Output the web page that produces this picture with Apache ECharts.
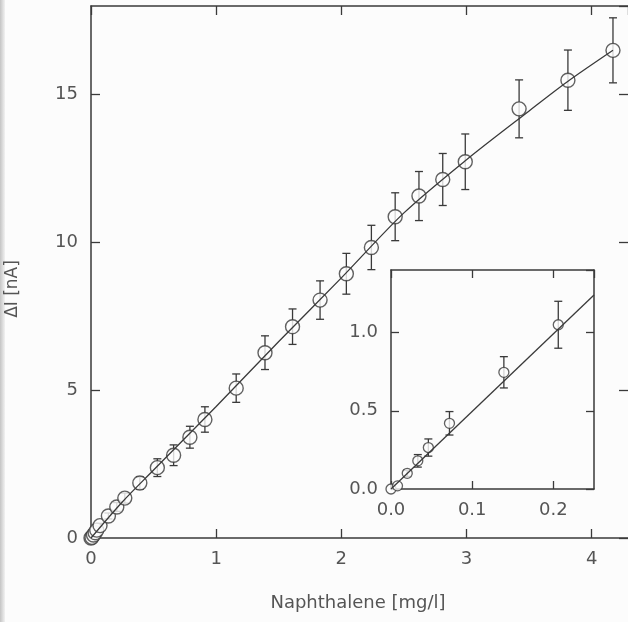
<!DOCTYPE html>
<html><head><meta charset="utf-8">
<script src="https://cdn.jsdelivr.net/npm/echarts@6/dist/echarts.min.js"></script>
<style>html,body{margin:0;padding:0;background:#fcfcfc}#c{width:628px;height:622px}</style>
</head><body><div id="c"></div>
<script>
// Measured points: naphthalene concentration (mg/l), current change (nA), error (nA)
const xVals = [0, 0.008, 0.02, 0.033, 0.046, 0.072, 0.139, 0.206, 0.27, 0.39, 0.53, 0.66, 0.79, 0.91, 1.16, 1.39, 1.61, 1.83, 2.04, 2.24, 2.43, 2.62, 2.81, 2.99, 3.42, 3.81, 4.17];
const yVals = [0, 0.02, 0.10, 0.18, 0.265, 0.42, 0.746, 1.05, 1.35, 1.86, 2.38, 2.80, 3.41, 4.01, 5.07, 6.27, 7.15, 8.05, 8.94, 9.83, 10.87, 11.57, 12.13, 12.73, 14.52, 15.49, 16.5];
const errVals = [0, 0, 0.02, 0.04, 0.055, 0.075, 0.10, 0.15, 0.17, 0.21, 0.30, 0.35, 0.37, 0.43, 0.48, 0.57, 0.60, 0.65, 0.69, 0.75, 0.81, 0.83, 0.88, 0.94, 0.98, 1.02, 1.10];
// Fitted curve (main plot)
const fitX = [0, 0.25, 0.5, 1.0, 1.5, 2.0, 2.5, 3.0, 3.5, 3.8, 4.17];
const fitY = [0, 1.22, 2.3, 4.45, 6.65, 8.8, 11.0, 12.8, 14.45, 15.42, 16.5];
// Fitted line (inset)
const insetFitX = [0, 0.25];
const insetFitY = [0, 1.24];
// Tick labels
const mainXTicks = ['0', '1', '2', '3', '4'];
const mainYTicks = ['0', '5', '10', '15'];
const insetXTicks = ['0.0', '0.1', '0.2'];
const insetYTicks = ['0.0', '0.5', '1.0'];
const insetMaxX = 0.25;

const INK = '#3a3a3a';
const TXT = '#555';
const FONT = 'DejaVu Sans';
const BG = '#fcfcfc';

function errData(maxX) {
  const out = [];
  xVals.forEach((x, i) => {
    if (x <= maxX && errVals[i] > 0) out.push([x, yVals[i] - errVals[i], yVals[i] + errVals[i]]);
  });
  return out;
}
function ptData(maxX) {
  const out = [];
  xVals.forEach((x, i) => { if (x <= maxX) out.push([x, yVals[i]]); });
  return out;
}
function errRender(cap) {
  return function (params, api) {
    const x = api.value(0);
    const lo = api.coord([x, api.value(1)]);
    const hi = api.coord([x, api.value(2)]);
    const st = { stroke: INK, lineWidth: 1.3, fill: null };
    return { type: 'group', children: [
      { type: 'line', shape: { x1: hi[0], y1: hi[1], x2: lo[0], y2: lo[1] }, style: st },
      { type: 'line', shape: { x1: hi[0] - cap, y1: hi[1], x2: hi[0] + cap, y2: hi[1] }, style: st },
      { type: 'line', shape: { x1: lo[0] - cap, y1: lo[1], x2: lo[0] + cap, y2: lo[1] }, style: st }
    ]};
  };
}
function fmtFrom(list, digits) {
  return function (v) {
    const s = digits ? v.toFixed(digits) : String(Math.round(v * 1000) / 1000);
    return list.indexOf(s) >= 0 ? s : '';
  };
}
const axisLine = { show: true, onZero: false, lineStyle: { color: INK, width: 1.5 } };
const tick = (len) => ({ show: true, inside: true, length: len, lineStyle: { color: INK, width: 1.3 } });
const label = (margin, list, digits) => ({ show: true, margin: margin, color: TXT, fontFamily: FONT, fontSize: 18, formatter: fmtFrom(list, digits), showMaxLabel: false });

const chart = echarts.init(document.getElementById('c'), null, { renderer: 'canvas' });
chart.setOption({
  backgroundColor: BG,
  animation: false,
  grid: [
    { left: 91, top: 6, right: 0, bottom: 84, show: false, outerBoundsMode: 'none' },
    { left: 391, top: 270, right: 34, bottom: 133, show: true, backgroundColor: BG, borderWidth: 0, outerBoundsMode: 'none' }
  ],
  xAxis: [
    { type: 'value', gridIndex: 0, position: 'bottom', min: 0, max: 4.29, interval: 1, axisLine, axisTick: tick(9), axisLabel: label(12, mainXTicks), splitLine: { show: false } },
    { type: 'value', gridIndex: 0, position: 'top', min: 0, max: 4.29, interval: 1, axisLine, axisTick: tick(9), axisLabel: { show: false }, splitLine: { show: false } },
    { type: 'value', gridIndex: 1, position: 'bottom', min: 0, max: insetMaxX, interval: 0.1, axisLine, axisTick: tick(8), axisLabel: label(12, insetXTicks, 1), splitLine: { show: false } },
    { type: 'value', gridIndex: 1, position: 'top', min: 0, max: insetMaxX, interval: 0.1, axisLine, axisTick: tick(8), axisLabel: { show: false }, splitLine: { show: false } }
  ],
  yAxis: [
    { type: 'value', gridIndex: 0, position: 'left', min: 0, max: 18, interval: 5, axisLine, axisTick: tick(9), axisLabel: label(13, mainYTicks), splitLine: { show: false } },
    { type: 'value', gridIndex: 0, position: 'right', min: 0, max: 18, interval: 5, axisLine: { show: false, onZero: false }, axisTick: tick(9), axisLabel: { show: false }, splitLine: { show: false } },
    { type: 'value', gridIndex: 1, position: 'left', min: 0, max: 1.4, interval: 0.5, axisLine, axisTick: tick(8), axisLabel: label(13, insetYTicks, 1), splitLine: { show: false } },
    { type: 'value', gridIndex: 1, position: 'right', min: 0, max: 1.4, interval: 0.5, axisLine, axisTick: tick(8), axisLabel: { show: false }, splitLine: { show: false } }
  ],
  series: [
    { type: 'custom', xAxisIndex: 0, yAxisIndex: 0, renderItem: errRender(4), data: errData(99), z: 1, clip: false },
    { type: 'scatter', xAxisIndex: 0, yAxisIndex: 0, data: ptData(99), symbol: 'circle', symbolSize: 14,
      itemStyle: { color: BG, borderColor: INK, borderWidth: 1.4 }, z: 2, clip: false },
    { type: 'line', xAxisIndex: 0, yAxisIndex: 0, data: fitX.map((x, i) => [x, fitY[i]]), showSymbol: false, smooth: 0.3,
      lineStyle: { color: INK, width: 1.3 }, z: 3 },
    { type: 'custom', xAxisIndex: 2, yAxisIndex: 2, renderItem: errRender(4), data: errData(insetMaxX), z: 4, clip: false },
    { type: 'scatter', xAxisIndex: 2, yAxisIndex: 2, data: ptData(insetMaxX), symbol: 'circle', symbolSize: 10,
      itemStyle: { color: BG, borderColor: INK, borderWidth: 1.3 }, z: 5, clip: false },
    { type: 'line', xAxisIndex: 2, yAxisIndex: 2, data: insetFitX.map((x, i) => [x, insetFitY[i]]), showSymbol: false,
      lineStyle: { color: INK, width: 1.3 }, z: 6 }
  ],
  graphic: [
    { type: 'rect', left: 0, top: 0, shape: { width: 5, height: 622 }, silent: true,
      style: { fill: new echarts.graphic.LinearGradient(0, 0, 1, 0, [{ offset: 0, color: '#c4c4c4' }, { offset: 1, color: '#f2f2f2' }]) } },
    { type: 'text', x: 358, y: 603, silent: true,
      style: { text: 'Naphthalene [mg/l]', fontFamily: FONT, fontSize: 18, fill: TXT, align: 'center', verticalAlign: 'middle' } },
    { type: 'text', x: 13, y: 289, rotation: Math.PI / 2, silent: true,
      style: { text: 'ΔI [nA]', fontFamily: FONT, fontSize: 17, fill: TXT, align: 'center', verticalAlign: 'middle' } }
  ]
});
</script>
</body></html>
